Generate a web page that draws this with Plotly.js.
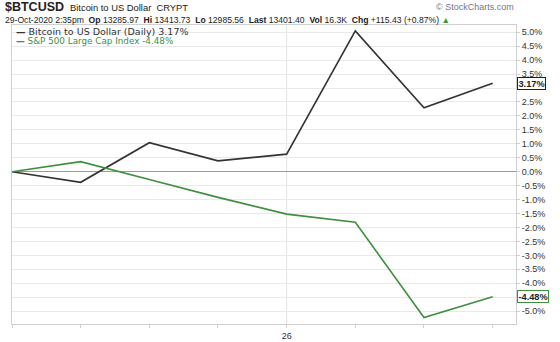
<!DOCTYPE html>
<html>
<head>
<meta charset="utf-8">
<script src="https://cdn.plot.ly/plotly-3.0.1.min.js"></script>
<style>html,body{margin:0;padding:0;background:#fff;}#chart{width:560px;height:342px;}</style>
</head>
<body>
<div id="chart"></div>
<script>
// ---- data ----
const dates = ['Oct 20','Oct 21','Oct 22','Oct 23','Oct 26','Oct 27','Oct 28','Oct 29'];
const xTickLabels = ['','','','','26','','',''];
const btcValues = [0, -0.38, 1.04, 0.39, 0.63, 5.05, 2.29, 3.17];
const spxValues = [0, 0.36, -0.28, -0.92, -1.52, -1.81, -5.23, -4.48];
const yTicks = [5.0,4.5,4.0,3.5,3.0,2.5,2.0,1.5,1.0,0.5,0.0,-0.5,-1.0,-1.5,-2.0,-2.5,-3.0,-3.5,-4.0,-4.5,-5.0];
// 3.0% and -4.5% are covered by the last-value boxes in the reference
const yTickLabels = ['5.0%','4.5%','4.0%','3.5%','','2.5%','2.0%','1.5%','1.0%','0.5%','0.0%','-0.5%','-1.0%','-1.5%','-2.0%','-2.5%','-3.0%','-3.5%','-4.0%','','-5.0%'];
const btcName = 'Bitcoin to US Dollar (Daily) 3.17%';
const spxName = 'S&P 500 Large Cap Index -4.48%';
const btcLast = '3.17%';
const spxLast = '-4.48%';

const btcColor = '#333333';
const spxColor = '#3f8f3f';

const traces = [
  {x: dates, y: btcValues, type: 'scatter', mode: 'lines', name: btcName,
   line: {color: btcColor, width: 1.6}, hoverinfo: 'skip'},
  {x: dates, y: spxValues, type: 'scatter', mode: 'lines', name: spxName,
   line: {color: spxColor, width: 1.6}, hoverinfo: 'skip'}
];

const F = 'Arial, "Liberation Sans", sans-serif';
const V = '"DejaVu Sans", Verdana, sans-serif';

const layout = {
  width: 560, height: 342,
  margin: {l: 12, r: 44, t: 25, b: 18},
  paper_bgcolor: '#fff', plot_bgcolor: '#fff',
  showlegend: false,
  xaxis: {
    type: 'category', range: [0, 7.34],
    tickvals: dates, ticktext: xTickLabels,
    ticks: 'outside', ticklen: 3, tickcolor: '#d0d0d0',
    showgrid: false, zeroline: false,
    showline: true, linecolor: '#cfcfcf', linewidth: 1, mirror: true,
    tickfont: {family: F, size: 9, color: '#333'}
  },
  yaxis: {
    side: 'right', range: [-5.46, 5.26],
    tickvals: yTicks, ticktext: yTickLabels,
    ticks: 'outside', ticklen: 3, tickcolor: '#d0d0d0',
    showgrid: true, gridcolor: '#e9e9e9', gridwidth: 1,
    zeroline: true, zerolinecolor: '#9a9a9a', zerolinewidth: 1,
    showline: true, linecolor: '#cfcfcf', linewidth: 1, mirror: true,
    tickfont: {family: F, size: 9, color: '#333'}
  },
  shapes: [
    {type: 'line', xref: 'x', yref: 'paper', x0: dates[4], x1: dates[4], y0: 0, y1: 1,
     line: {color: '#e4e4e4', width: 1}, layer: 'below'}
  ],
  annotations: [
    {xref: 'paper', yref: 'paper', x: -0.018, y: 1.061, xanchor: 'left', yanchor: 'middle', showarrow: false,
     text: '<b>$BTCUSD</b>', font: {family: F, size: 12.5, color: '#222'}},
    {xref: 'paper', yref: 'paper', x: 0.112, y: 1.058, xanchor: 'left', yanchor: 'middle', showarrow: false,
     text: 'Bitcoin to US Dollar  CRYPT', font: {family: F, size: 9.4, color: '#222'}},
    {xref: 'paper', yref: 'paper', x: 1.0, y: 1.061, xanchor: 'right', yanchor: 'middle', showarrow: false,
     text: '© StockCharts.com', font: {family: F, size: 9, color: '#777'}},
    {xref: 'paper', yref: 'paper', x: -0.018, y: 1.017, xanchor: 'left', yanchor: 'middle', showarrow: false,
     text: '29-Oct-2020 2:35pm  <b>Op</b> 13285.97  <b>Hi</b> 13413.73  <b>Lo</b> 12985.56  <b>Last</b> 13401.40  <b>Vol</b> 16.3K  <b>Chg</b> +115.43 (+0.87%) <span style="color:#3a9a3a">▲</span>',
     font: {family: F, size: 8.6, color: '#222'}},
    {xref: 'paper', yref: 'paper', x: 0.004, y: 0.978, xanchor: 'left', yanchor: 'middle', showarrow: false,
     text: '<b>—</b> ' + btcName, font: {family: V, size: 9.5, color: '#333'}},
    {xref: 'paper', yref: 'paper', x: 0.004, y: 0.947, xanchor: 'left', yanchor: 'middle', showarrow: false,
     text: '<b>—</b> ' + spxName, font: {family: V, size: 8.8, color: spxColor}},
    {xref: 'paper', yref: 'y', x: 1, y: btcValues[btcValues.length-1], xanchor: 'left', yanchor: 'middle', xshift: 1,
     showarrow: false, text: '<b>' + btcLast + '</b>', font: {family: F, size: 9.2, color: '#222'},
     bgcolor: '#fff', bordercolor: '#222', borderwidth: 1, borderpad: 0.5},
    {xref: 'paper', yref: 'y', x: 1, y: spxValues[spxValues.length-1], xanchor: 'left', yanchor: 'middle', xshift: 1,
     showarrow: false, text: '<b>' + spxLast + '</b>', font: {family: F, size: 9.2, color: '#222'},
     bgcolor: '#fff', bordercolor: spxColor, borderwidth: 1, borderpad: 0.5}
  ]
};

Plotly.newPlot('chart', traces, layout, {staticPlot: true, displayModeBar: false});
</script>
</body>
</html>
